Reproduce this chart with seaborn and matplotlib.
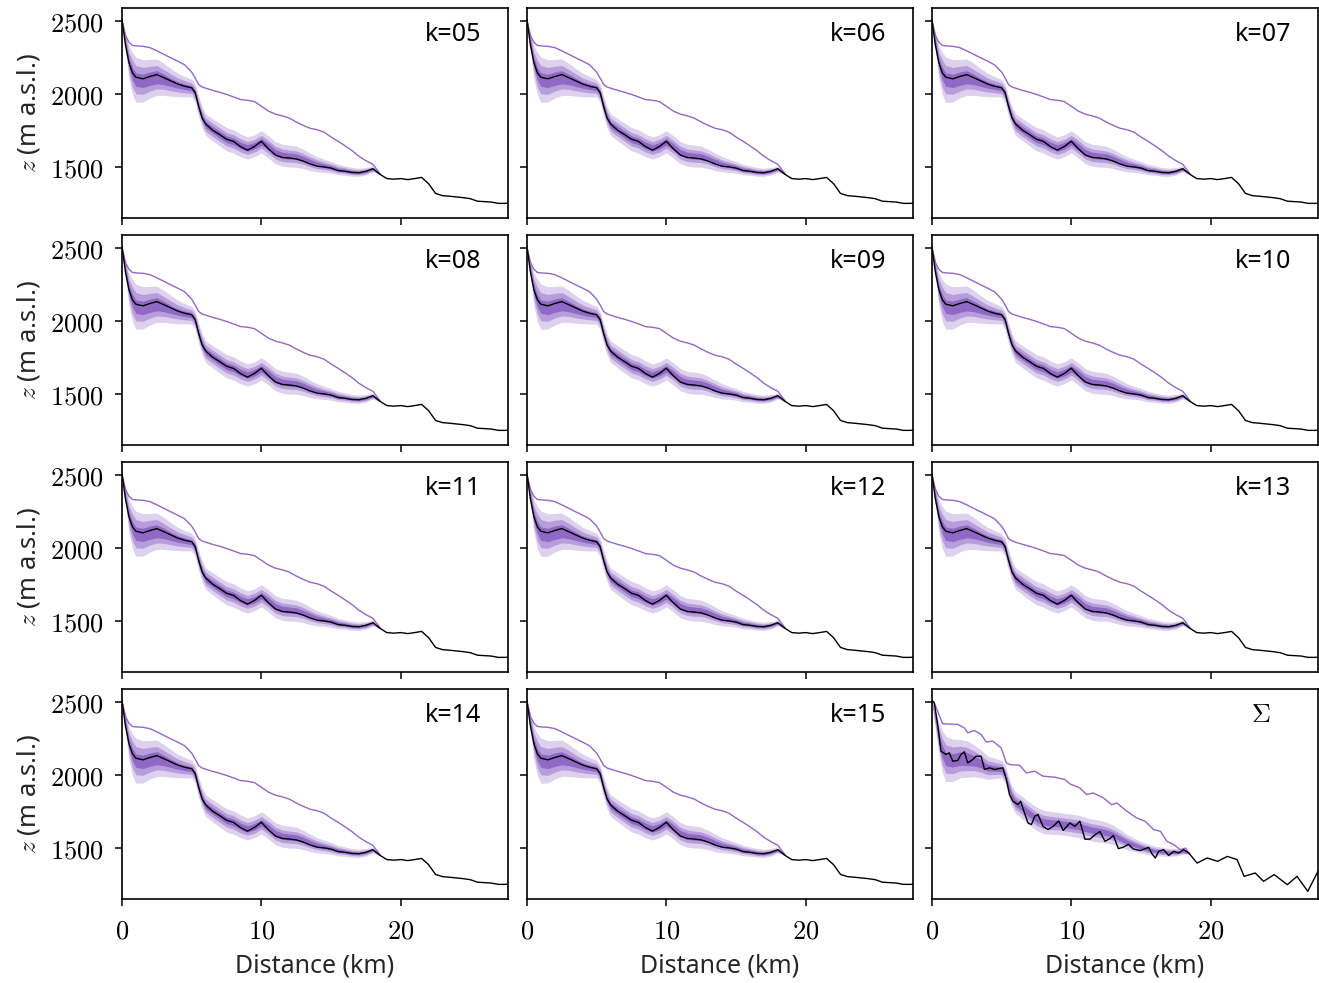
import numpy as np
import pandas as pd
import matplotlib
matplotlib.use("Agg")
import matplotlib.pyplot as plt
from matplotlib.ticker import FuncFormatter, FixedLocator
import seaborn as sns

# ---------------- data ----------------
panel_labels = ["k=05", "k=06", "k=07", "k=08", "k=09", "k=10",
                "k=11", "k=12", "k=13", "k=14", "k=15", r"$\Sigma$"]

dist = [0, 0.25, 0.5, 0.75, 1.0, 1.5, 2.0, 2.5, 3.0, 3.5, 4.0, 4.5, 5.0, 5.25,
        5.5, 5.75, 6.0, 6.5, 7.0, 7.5, 8.0, 8.5, 9.0, 9.5, 10.0, 10.5, 11.0,
        11.5, 12.0, 12.5, 13.0, 13.5, 14.0, 14.5, 15.0, 15.5, 16.0, 16.5, 17.0,
        17.5, 18.0, 18.5, 19.0, 19.5, 20.0, 20.5, 21.0, 21.5, 22.0, 22.5, 23.0,
        23.5, 24.0, 24.5, 25.0, 25.5, 26.0, 26.5, 27.0, 27.5, 27.8]

bed_k = [2510, 2335, 2214, 2145, 2115, 2104, 2120, 2133, 2112, 2090, 2068, 2053,
         2043, 2010, 1915, 1835, 1795, 1752, 1722, 1690, 1675, 1640, 1615, 1640,
         1676, 1625, 1582, 1565, 1561, 1555, 1540, 1520, 1505, 1500, 1492, 1475,
         1470, 1462, 1460, 1470, 1488, 1450, 1420, 1416, 1420, 1413, 1420, 1428,
         1385, 1318, 1303, 1299, 1294, 1289, 1282, 1265, 1262, 1259, 1250, 1250,
         1252]

# quantile bands (k panels), defined on the first 42 distances (0 .. 18.5 km)
band_dist = dist[:42]
band_mid_k = [2505, 2360, 2215, 2140, 2098, 2090, 2105, 2115, 2100, 2080, 2062,
              2050, 2040, 2005, 1915, 1840, 1790, 1755, 1722, 1690, 1675, 1648,
              1630, 1645, 1672, 1638, 1598, 1580, 1574, 1570, 1555, 1535, 1518,
              1508, 1497, 1482, 1475, 1466, 1463, 1470, 1485, 1455]
half_outer = [5, 60, 112, 145, 155, 145, 132, 125, 110, 95, 80, 70, 60, 62, 70,
              72, 74, 76, 78, 80, 80, 78, 76, 75, 76, 76, 76, 75, 75, 72, 66, 60,
              52, 45, 40, 36, 32, 30, 28, 26, 20, 8]
half_mid = [3, 38, 70, 92, 97, 92, 85, 80, 68, 58, 48, 42, 36, 38, 42, 44, 45,
            46, 46, 46, 46, 45, 44, 44, 44, 44, 44, 43, 42, 40, 37, 34, 30, 26,
            23, 21, 19, 18, 17, 16, 12, 5]
half_inner = [1, 18, 33, 43, 46, 46, 46, 45, 36, 28, 22, 19, 17, 18, 20, 21, 22,
              22, 23, 23, 23, 22, 22, 22, 22, 22, 22, 21, 21, 20, 18, 17, 15, 13,
              12, 11, 10, 9, 9, 8, 6, 3]

surface_k = [2505, 2400, 2355, 2333, 2330, 2327, 2318, 2296, 2272, 2248, 2225,
             2200, 2150, 2110, 2065, 2048, 2040, 2025, 2012, 1997, 1980, 1962,
             1957, 1948, 1916, 1883, 1862, 1850, 1835, 1808, 1785, 1765, 1755,
             1738, 1705, 1676, 1645, 1612, 1573, 1543, 1518, 1455]

# Sigma panel
sigma_dist = [0, 0.17, 0.45, 0.65, 1.0, 1.25, 1.49, 1.85, 2.09, 2.33, 2.57, 2.93,
              3.17, 3.53, 3.77, 4.13, 4.49, 5.09, 5.34, 5.57, 5.81, 6.17, 6.37,
              6.6, 6.9, 7.14, 7.38, 7.61, 7.97, 8.33, 8.7, 9.1, 9.42, 9.9, 10.26,
              10.62, 10.98, 11.34, 11.7, 12.06, 12.42, 12.78, 13.02, 13.38, 13.74,
              14.1, 14.46, 14.95, 15.55, 15.79, 16.03, 16.27, 16.63, 16.99, 17.35,
              17.7, 18.07, 18.43, 19.03, 19.75, 20.5, 21.2, 21.9, 22.4, 23.2,
              23.8, 24.56, 25.5, 26.2, 26.97, 27.7]
sigma_bed = [2510, 2495, 2323, 2163, 2141, 2152, 2095, 2099, 2141, 2159, 2083,
             2106, 2129, 2129, 2038, 2049, 2038, 2049, 1969, 1866, 1820, 1797,
             1820, 1751, 1671, 1660, 1717, 1729, 1648, 1626, 1648, 1685, 1620,
             1671, 1648, 1683, 1560, 1560, 1590, 1612, 1545, 1565, 1585, 1495,
             1505, 1525, 1492, 1482, 1504, 1460, 1430, 1477, 1488, 1448, 1477,
             1465, 1488, 1465, 1396, 1431, 1408, 1442, 1420, 1305, 1328, 1271,
             1317, 1248, 1305, 1202, 1339]
sigma_surf_dist = [0, 0.17, 0.77, 1.85, 2.33, 2.57, 3.05, 3.53, 3.9, 4.37, 4.97,
                   5.34, 5.57, 6.29, 6.78, 7.38, 7.97, 8.82, 9.54, 9.9, 10.62,
                   11.1, 11.58, 12.3, 12.9, 13.27, 13.99, 14.7, 15.3, 15.9, 16.4,
                   16.87, 17.35, 17.83, 18.2, 18.43]
sigma_surface = [2510, 2495, 2351, 2347, 2323, 2289, 2305, 2278, 2227, 2232,
                 2186, 2083, 2072, 2067, 2014, 2026, 1992, 1985, 1969, 1939,
                 1911, 1866, 1877, 1843, 1797, 1808, 1751, 1705, 1683, 1626,
                 1614, 1545, 1523, 1488, 1499, 1465]
band_mid_sigma = [2505, 2380, 2250, 2160, 2110, 2100, 2112, 2110, 2098, 2078,
                  2050, 2045, 2040, 2005, 1920, 1850, 1810, 1775, 1735, 1700,
                  1678, 1672, 1668, 1662, 1655, 1648, 1635, 1622, 1615, 1605,
                  1590, 1565, 1540, 1522, 1505, 1490, 1480, 1474, 1470, 1470,
                  1476, 1465]

xticks = [0, 10, 20]
yticks = [1500, 2000, 2500]

# ---------------- style ----------------
sns.set_theme(style="ticks")
plt.rcParams["font.family"] = ["Noto Sans", "DejaVu Sans"]
plt.rcParams["mathtext.fontset"] = "cm"

c_surface = "#9467c4"
c_outer = "#ddd1ee"
c_midband = "#b79edb"
c_inner = "#9068c6"

fig, axes = plt.subplots(4, 3, figsize=(13.19, 9.83), dpi=100,
                         sharex=True, sharey=True)
fig.subplots_adjust(left=0.0925, right=0.9992, top=0.9919, bottom=0.0855,
                    wspace=0.049, hspace=0.081)

bd = np.array(band_dist)
ho, hm, hi = np.array(half_outer), np.array(half_mid), np.array(half_inner)

for i, ax in enumerate(axes.flat):
    is_sigma = i == 11
    mid = np.array(band_mid_sigma if is_sigma else band_mid_k)
    ax.fill_between(bd, mid - ho, mid + ho, color=c_outer, lw=0)
    ax.fill_between(bd, mid - hm, mid + hm, color=c_midband, lw=0)
    ax.fill_between(bd, mid - hi, mid + hi, color=c_inner, lw=0)
    if is_sigma:
        df_s = pd.DataFrame({"d": sigma_surf_dist, "z": sigma_surface})
        df_b = pd.DataFrame({"d": sigma_dist, "z": sigma_bed})
    else:
        df_s = pd.DataFrame({"d": band_dist, "z": surface_k})
        df_b = pd.DataFrame({"d": dist, "z": bed_k})
    sns.lineplot(data=df_s, x="d", y="z", ax=ax, color=c_surface, lw=1.0,
                 estimator=None, sort=False)
    sns.lineplot(data=df_b, x="d", y="z", ax=ax, color="black", lw=1.0,
                 estimator=None, sort=False)
    ax.set_xlim(0, 27.7)
    ax.set_ylim(1150, 2590)
    ax.xaxis.set_major_locator(FixedLocator(xticks))
    ax.yaxis.set_major_locator(FixedLocator(yticks))
    fmt = FuncFormatter(lambda v, p: r"$%d$" % v)
    ax.xaxis.set_major_formatter(fmt)
    ax.yaxis.set_major_formatter(fmt)
    ax.tick_params(direction="out", length=5, width=1.1, labelsize=19,
                   color="black", labelcolor="black", pad=8)
    for s in ax.spines.values():
        s.set_visible(True)
        s.set_color("black")
        s.set_linewidth(1.2)
    ax.set_xlabel("")
    ax.set_ylabel("")
    if is_sigma:
        ax.text(0.852, 0.875, panel_labels[i], transform=ax.transAxes,
                ha="center", va="center", fontsize=19, color="black")
    else:
        ax.text(0.93, 0.875, panel_labels[i], transform=ax.transAxes,
                ha="right", va="center", fontsize=18, color="black")
    if i % 3 == 0:
        ax.set_ylabel(r"$z$ (m a.s.l.)", fontsize=18.5, labelpad=6)
    if i >= 9:
        ax.set_xlabel("Distance (km)", fontsize=18, labelpad=6)

fig.savefig("out.png", dpi=100)
